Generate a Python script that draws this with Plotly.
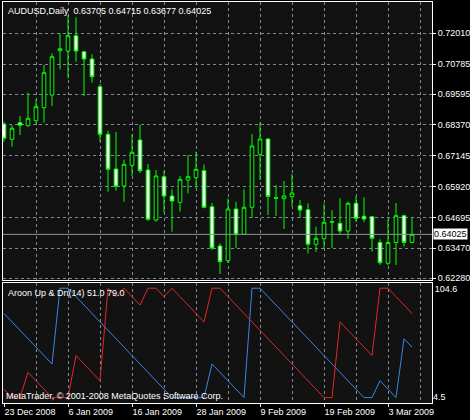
import plotly.graph_objects as go

# ---- data ----
date_labels = ["23 Dec 2008", "6 Jan 2009", "16 Jan 2009", "28 Jan 2009",
               "9 Feb 2009", "19 Feb 2009", "3 Mar 2009"]
date_label_bars = [0, 8, 16, 24, 32, 40, 48]

open_ = [0.68408, 0.67800, 0.68459, 0.68340, 0.68539, 0.69055, 0.69559, 0.71319,
         0.71307, 0.71914, 0.71279, 0.70989, 0.69889, 0.67998, 0.66620, 0.65945,
         0.66767, 0.67772, 0.66581, 0.64595, 0.66315, 0.65548, 0.65298, 0.66184,
         0.66275, 0.66553, 0.65123, 0.63562, 0.62979, 0.65032, 0.64027, 0.65099,
         0.67204, 0.67812, 0.65457, 0.65441, 0.65520, 0.65163, 0.65004, 0.63630,
         0.63852, 0.64504, 0.64464, 0.64158, 0.65258, 0.64742, 0.64726, 0.63701,
         0.62875, 0.63701, 0.64766, 0.63705]
high = [0.68499, 0.68368, 0.68725, 0.69651, 0.69388, 0.70751, 0.71215, 0.72010,
        0.72736, 0.72645, 0.71307, 0.71176, 0.69996, 0.68141, 0.68090, 0.66990,
        0.67990, 0.68368, 0.66819, 0.66581, 0.66553, 0.65814, 0.66342, 0.67176,
        0.67307, 0.66807, 0.65270, 0.63670, 0.65457, 0.65322, 0.65814, 0.68010,
        0.68475, 0.67840, 0.65985, 0.66144, 0.66422, 0.65389, 0.65258, 0.64329,
        0.65242, 0.64980, 0.65457, 0.65330, 0.65536, 0.65496, 0.64754, 0.63828,
        0.64623, 0.65270, 0.64813, 0.64715]
low = [0.67705, 0.67506, 0.67971, 0.68300, 0.68435, 0.68459, 0.69122, 0.70580,
       0.70222, 0.70882, 0.69520, 0.70048, 0.67705, 0.65719, 0.65767, 0.65322,
       0.66342, 0.66461, 0.64567, 0.64527, 0.64885, 0.64130, 0.64925, 0.65655,
       0.65854, 0.65060, 0.63404, 0.62450, 0.62887, 0.63483, 0.63999, 0.64674,
       0.66184, 0.64794, 0.64754, 0.64238, 0.65139, 0.64674, 0.63272, 0.63336,
       0.63483, 0.63483, 0.63999, 0.63848, 0.64508, 0.64508, 0.63336, 0.62815,
       0.62800, 0.62808, 0.63535, 0.63677]
close = [0.67840, 0.68237, 0.68356, 0.68634, 0.69095, 0.70445, 0.71080, 0.71398,
         0.71914, 0.71307, 0.70989, 0.70286, 0.67998, 0.66608, 0.65933, 0.66807,
         0.67284, 0.66553, 0.64623, 0.66342, 0.65548, 0.65350, 0.66211, 0.66315,
         0.66608, 0.65099, 0.63483, 0.62939, 0.65032, 0.64027, 0.65099, 0.67534,
         0.67812, 0.65528, 0.65481, 0.65548, 0.65667, 0.64992, 0.63630, 0.63868,
         0.64504, 0.64528, 0.64158, 0.65258, 0.64662, 0.64635, 0.63868, 0.62899,
         0.63701, 0.64766, 0.63701, 0.64025]

aroon_up = [79, 72, 65, 58, 51, 44, 37, 100, 100, 93, 86, 79, 72, 65, 58, 51,
            44, 37, 30, 23, 16, 9, 9, 9, 9, 9, 37, 30, 23, 16, 9, 100,
            100, 93, 86, 79, 72, 65, 58, 51, 44, 37, 30, 23, 16, 9, 9, 23,
            16, 9, 58, 51]
aroon_dn = [16, 9, 9, 30, 23, 16, 9, 9, 9, 44, 37, 30, 23, 100, 93, 100,
            93, 86, 100, 100, 93, 100, 93, 86, 79, 72, 100, 100, 93, 86, 79, 72,
            65, 58, 51, 44, 37, 30, 23, 16, 9, 9, 72, 65, 58, 51, 44, 100,
            100, 93, 86, 79]

price_ticks = [0.72010, 0.70785, 0.69595, 0.68370, 0.67145, 0.65920,
               0.64695, 0.63470, 0.62280]
aroon_top_tick = [104.6]
aroon_bottom_tick = [4.5]

# ---- styling ----
FONT = "Liberation Sans"
FS = 9
WHITE = "#ffffff"
GRID = "#7f8a96"
GREEN = "#00ff00"
BLUE = "#3a86e0"
RED = "#e02828"

bars = list(range(len(close)))
x_range = [-0.125, 53.5]
grid_bars = list(range(4, 53, 4))

fig = go.Figure()
fig.add_trace(go.Candlestick(
    x=bars, open=open_, high=high, low=low, close=close,
    increasing=dict(line=dict(color=GREEN, width=1), fillcolor="#000000"),
    decreasing=dict(line=dict(color=GREEN, width=1), fillcolor="#ffffff"),
    whiskerwidth=0, xaxis="x", yaxis="y", hoverinfo="skip", showlegend=False))
fig.add_trace(go.Scatter(x=bars, y=aroon_up, mode="lines",
                         line=dict(color=BLUE, width=1),
                         xaxis="x2", yaxis="y2", hoverinfo="skip", showlegend=False))
fig.add_trace(go.Scatter(x=bars, y=aroon_dn, mode="lines",
                         line=dict(color=RED, width=1),
                         xaxis="x3", yaxis="y3", hoverinfo="skip", showlegend=False))

axfont = dict(family=FONT, size=FS, color=WHITE)
a_range = [aroon_bottom_tick[0] - 0.001, aroon_top_tick[0] + 0.001]

fig.update_layout(
    width=470, height=420,
    margin=dict(l=3, r=38, t=2, b=17, autoexpand=False),
    paper_bgcolor="#000000", plot_bgcolor="#121212",
    font=dict(family=FONT, size=FS, color=WHITE),
    showlegend=False, hovermode=False, boxgap=0.35,
    xaxis=dict(domain=[0, 1], anchor="y", range=x_range, tickvals=grid_bars,
               showticklabels=False, ticks="", showgrid=True, gridcolor=GRID,
               griddash="3px,3px", gridwidth=1, zeroline=False, showline=True,
               mirror=True, linecolor=WHITE, linewidth=1, automargin=False,
               rangeslider=dict(visible=False)),
    yaxis=dict(domain=[0.3067, 1], anchor="x", side="right",
               range=[0.62212, 0.73253], tickvals=price_ticks,
               ticktext=[f"{v:.5f}" for v in price_ticks],
               ticks="outside", ticklen=3, tickcolor=WHITE, tickfont=axfont,
               showgrid=True, gridcolor=GRID, griddash="3px,3px", gridwidth=1,
               zeroline=False, showline=True, mirror=True, linecolor=WHITE,
               linewidth=1, automargin=False),
    xaxis2=dict(domain=[0, 1], anchor="y2", range=x_range, tickvals=grid_bars,
                showticklabels=False, ticks="", showgrid=True, gridcolor=GRID,
                griddash="3px,3px", gridwidth=1, zeroline=False, showline=True,
                mirror=True, linecolor=WHITE, linewidth=1, automargin=False),
    xaxis3=dict(overlaying="x2", anchor="y3", side="bottom", range=x_range,
                tickvals=date_label_bars, ticktext=date_labels, ticks="outside",
                ticklen=3, tickcolor=WHITE, tickfont=axfont, showgrid=False,
                zeroline=False, showline=False, automargin=False,
                ticklabelposition="outside right"),
    yaxis2=dict(domain=[0, 0.3], anchor="x2", side="right", range=a_range,
                tickvals=aroon_top_tick, ticktext=[f"{v:.1f}" for v in aroon_top_tick],
                ticks="", tickfont=axfont, showgrid=False, zeroline=False,
                showline=True, mirror=True, linecolor=WHITE, linewidth=1,
                automargin=False, ticklabelposition="outside bottom"),
    yaxis3=dict(overlaying="y2", anchor="x3", side="right", range=a_range,
                tickvals=aroon_bottom_tick,
                ticktext=[f"{v:.1f}" for v in aroon_bottom_tick],
                ticks="", tickfont=axfont, showgrid=False, zeroline=False,
                showline=False, automargin=False, ticklabelposition="outside top"),
)

# current price line and label
fig.add_shape(type="line", xref="paper", x0=0, x1=1, yref="y",
              y0=close[-1], y1=close[-1], line=dict(color="#8a949e", width=1))
fig.add_annotation(text=f"{close[-1]:.5f}", xref="paper", x=1, xanchor="left",
                   xshift=1, yref="y", y=close[-1], yanchor="middle",
                   showarrow=False, bgcolor="#ffffff", borderpad=0,
                   font=dict(family=FONT, size=FS, color="#000000"))

fig.add_annotation(
    text=f"AUDUSD,Daily  {open_[-1]:.5f} {high[-1]:.5f} {low[-1]:.5f} {close[-1]:.5f}",
    xref="paper", x=0, xanchor="left", xshift=3,
    yref="paper", y=1, yanchor="top", yshift=-2,
    showarrow=False, font=dict(family=FONT, size=FS, color=WHITE))
fig.add_annotation(
    text=f"Aroon Up & Dn(14) {aroon_up[-1]:.1f} {aroon_dn[-1]:.1f}",
    xref="paper", x=0, xanchor="left", xshift=3,
    yref="paper", y=0.3, yanchor="top", yshift=-3,
    showarrow=False, font=dict(family=FONT, size=FS, color=WHITE))
fig.add_annotation(
    text="MetaTrader, © 2001-2008 MetaQuotes Software Corp.",
    xref="paper", x=0, xanchor="left", xshift=1,
    yref="paper", y=0, yanchor="bottom", yshift=0,
    showarrow=False, font=dict(family=FONT, size=FS, color=WHITE))

fig.write_html("out.html", config={"displayModeBar": False},
               post_script="document.body.style.margin='0';"
                           "document.body.style.overflow='hidden';")
